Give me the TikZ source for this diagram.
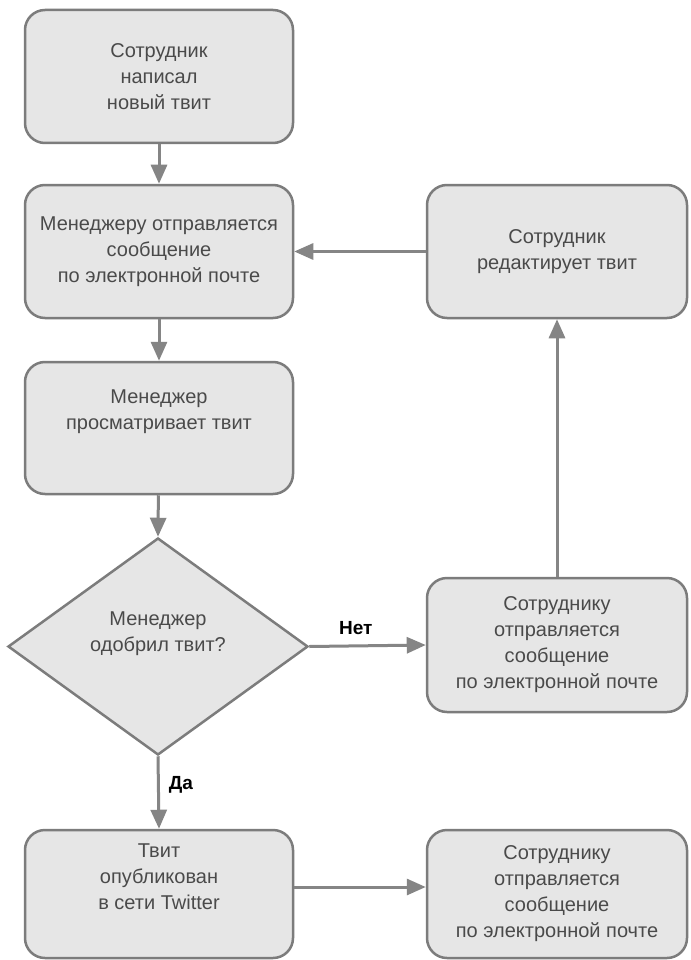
\documentclass[tikz,border=0pt]{standalone}
\usepackage{fontspec}
\setmainfont{Liberation Sans}
\usetikzlibrary{arrows.meta,shapes.geometric}
\definecolor{txtc}{HTML}{4A4A4A}
\definecolor{bordc}{HTML}{7C7C7C}
\definecolor{boxc}{HTML}{E6E6E6}
\definecolor{arrc}{HTML}{858585}
\begin{document}
\begin{tikzpicture}[x=1pt,y=-1pt,
  box/.style={draw=bordc, fill=boxc, line width=2.5pt, rounded corners=20pt,
    align=center, text=txtc, font=\fontsize{20}{26}\selectfont, inner sep=0pt},
  decision/.style={draw=bordc, fill=boxc, line width=2.5pt, diamond,
    align=center, text=txtc, font=\fontsize{20}{26}\selectfont, inner sep=0pt},
  conn/.style={draw=arrc, line width=3pt, -{Triangle[length=19pt,width=16pt]}},
  lab/.style={text=black, font=\bfseries\fontsize{19}{21}\selectfont, inner sep=0pt}]
\useasboundingbox (0,0) rectangle (690,960);
\fill[white] (0,0) rectangle (690,960);

\node[box, minimum width=268pt, minimum height=133pt] (b1) at (159,76.5) {Сотрудник\\написал\\новый твит};
\node[box, minimum width=268pt, minimum height=133pt] (b2) at (159,251.5) {Менеджеру отправляется\\сообщение\\по электронной почте};
\node[box, minimum width=268pt, minimum height=132pt] (b3) at (159,428) {Менеджер\\просматривает твит\\[10pt]};
\node[decision, minimum width=300pt, minimum height=217pt] (dia) at (158,646.5) {Менеджер\\одобрил твит?\\[4pt]};
\node[box, minimum width=268pt, minimum height=128pt] (tw) at (159,894) {Твит\\опубликован\\в сети Twitter\\[8pt]};

\node[box, minimum width=260pt, minimum height=133pt] (ed) at (557,251.5) {Сотрудник\\редактирует твит};
\node[box, minimum width=260pt, minimum height=134pt] (mid) at (557,645) {Сотруднику\\отправляется\\сообщение\\по электронной почте};
\node[box, minimum width=260pt, minimum height=128pt] (bot) at (557,894) {Сотруднику\\отправляется\\сообщение\\по электронной почте};

\draw[conn] (b1) -- (b2);
\draw[conn] (b2) -- (b3);
\draw[conn] (b3) -- (dia.north);
\draw[conn] (dia.east) -- node[lab, pos=0.4, above=10pt] (no) {Нет} (mid.west);
\draw[conn] (mid) -- (ed);
\draw[conn] (ed) -- (b2);
\draw[conn] (dia.south) -- node[lab, pos=0.4, anchor=west, xshift=9pt] (yes) {Да} (tw.north);
\draw[conn] ([yshift=7pt]tw.east) -- ([yshift=7pt]bot.west);
\end{tikzpicture}
\end{document}
